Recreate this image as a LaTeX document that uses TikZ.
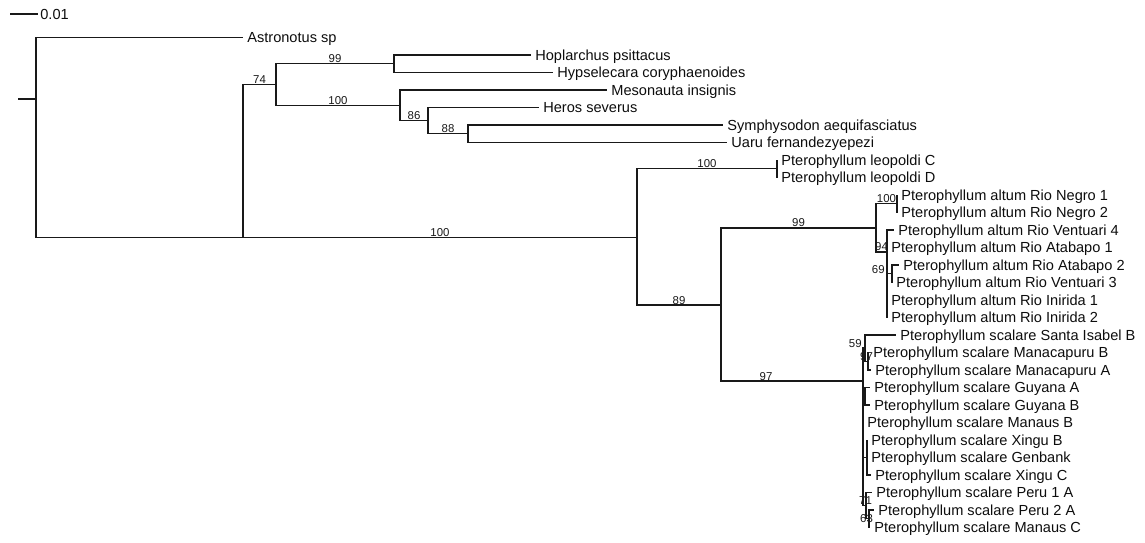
\documentclass[tikz,border=0pt]{standalone}
\usepackage{fontspec}
\setmainfont{Liberation Sans}
\begin{document}
\begin{tikzpicture}[x=0.02cm, y=-0.02cm,
  branch/.style={line width=0.8pt, draw=black!90},
  taxon/.style={anchor=west, inner xsep=0.08cm, inner ysep=0pt,
    text height=5.97pt, text depth=0pt, text=black!95,
    font=\fontsize{8.3}{9}\selectfont},
  bsv/.style={anchor=base, inner sep=0pt, text=black!90,
    font=\fontsize{6.5}{7}\selectfont}]
\useasboundingbox (0,0) rectangle (1145,542);

% ---------- scale bar ----------
\coordinate (sbA) at (10,14);
\coordinate (sbB) at (38,14);
\node[taxon, inner xsep=0.04cm] (sbL) at (38,14.5) {0.01};
\draw[branch] (sbA) -- (sbB);

% ---------- internal nodes ----------
\coordinate (rs)   at (18,99);
\coordinate (r0)   at (36,99);
\coordinate (n243) at (243,237.5);
\coordinate (n74)  at (276,84.5);
\coordinate (n99a) at (394,63.75);
\coordinate (n100a) at (400,105.3);
\coordinate (n86)  at (428,120.6);
\coordinate (n88)  at (468,133.75);
\coordinate (n637) at (637,237.5);
\coordinate (nleo) at (777,168.75);
\coordinate (n721) at (721,305);
\coordinate (n99b) at (876,227.8);
\coordinate (nneg) at (897,203.75);
\coordinate (n94)  at (887,251.9);
\coordinate (n69)  at (892,273.75);
\coordinate (nsc)  at (863,381);
\coordinate (n59)  at (865,348.1);
\coordinate (n97m) at (868,361.25);
\coordinate (nguy) at (865,396.25);
\coordinate (nxin) at (867,457.5);
\coordinate (n71)  at (866,505.6);
\coordinate (n63)  at (869,518.75);

% ---------- taxa ----------
\node[taxon] (astr) at (243,37.5) {Astronotus sp};
\node[taxon] (hopl) at (531,55) {Hoplarchus psittacus};
\node[taxon] (hyps) at (553,72.5) {Hypselecara coryphaenoides};
\node[taxon] (meso) at (607,90) {Mesonauta insignis};
\node[taxon] (hero) at (539,107.5) {Heros severus};
\node[taxon] (symp) at (723,125) {Symphysodon aequifasciatus};
\node[taxon] (uaru) at (727,142.5) {Uaru fernandezyepezi};
\node[taxon] (leoC) at (777,160) {Pterophyllum leopoldi C};
\node[taxon] (leoD) at (777,177.5) {Pterophyllum leopoldi D};
\node[taxon] (neg1) at (897,195) {Pterophyllum altum Rio Negro 1};
\node[taxon] (neg2) at (897,212.5) {Pterophyllum altum Rio Negro 2};
\node[taxon] (ven4) at (894,230) {Pterophyllum altum Rio Ventuari 4};
\node[taxon] (ata1) at (887,247.5) {Pterophyllum altum Rio Atabapo 1};
\node[taxon] (ata2) at (899,265) {Pterophyllum altum Rio Atabapo 2};
\node[taxon] (ven3) at (892,282.5) {Pterophyllum altum Rio Ventuari 3};
\node[taxon] (ini1) at (887,300) {Pterophyllum altum Rio Inirida 1};
\node[taxon] (ini2) at (887,317.5) {Pterophyllum altum Rio Inirida 2};
\node[taxon] (sisb) at (896,335) {Pterophyllum scalare Santa Isabel B};
\node[taxon] (mcpB) at (869,352.5) {Pterophyllum scalare Manacapuru B};
\node[taxon] (mcpA) at (871,370) {Pterophyllum scalare Manacapuru A};
\node[taxon] (guyA) at (870,387.5) {Pterophyllum scalare Guyana A};
\node[taxon] (guyB) at (870,405) {Pterophyllum scalare Guyana B};
\node[taxon] (mnsB) at (863,422.5) {Pterophyllum scalare Manaus B};
\node[taxon] (xinB) at (867,440) {Pterophyllum scalare Xingu B};
\node[taxon] (genb) at (867,457.5) {Pterophyllum scalare Genbank};
\node[taxon] (xinC) at (871,475) {Pterophyllum scalare Xingu C};
\node[taxon] (per1) at (872,492.5) {Pterophyllum scalare Peru 1 A};
\node[taxon] (per2) at (874,510) {Pterophyllum scalare Peru 2 A};
\node[taxon] (mnsC) at (870,527.5) {Pterophyllum scalare Manaus C};

% ---------- branches ----------
\draw[branch] (rs) -- (r0);
\draw[branch] (r0) |- (astr.west);
\draw[branch] (r0) |- (n243);
\draw[branch] (n243) |- (n74);
\draw[branch] (n243) -- (n637);
\draw[branch] (n74) |- (n99a);
\draw[branch] (n74) |- (n100a);
\draw[branch] (n99a) |- (hopl.west);
\draw[branch] (n99a) |- (hyps.west);
\draw[branch] (n100a) |- (meso.west);
\draw[branch] (n100a) |- (n86);
\draw[branch] (n86) |- (hero.west);
\draw[branch] (n86) |- (n88);
\draw[branch] (n88) |- (symp.west);
\draw[branch] (n88) |- (uaru.west);

\draw[branch] (n637) |- (nleo);
\draw[branch] (n637) |- (n721);
\draw[branch] (nleo) |- (leoC.west);
\draw[branch] (nleo) |- (leoD.west);
\draw[branch] (n721) |- (n99b);
\draw[branch] (n721) |- (nsc);

\draw[branch] (n99b) |- (nneg);
\draw[branch] (n99b) |- (n94);
\draw[branch] (nneg) |- (neg1.west);
\draw[branch] (nneg) |- (neg2.west);
\draw[branch] (n94) |- (ven4.west);
\draw[branch] (n94) |- (ata1.west);
\draw[branch] (n94) |- (n69);
\draw[branch] (n94) |- (ini1.west);
\draw[branch] (n94) |- (ini2.west);
\draw[branch] (n69) |- (ata2.west);
\draw[branch] (n69) |- (ven3.west);

\draw[branch] (nsc) |- (n59);
\draw[branch] (nsc) |- (nguy);
\draw[branch] (nsc) |- (mnsB.west);
\draw[branch] (nsc) |- (nxin);
\draw[branch] (nsc) |- (n71);
\draw[branch] (n59) |- (sisb.west);
\draw[branch] (n59) |- (n97m);
\draw[branch] (n97m) |- (mcpB.west);
\draw[branch] (n97m) |- (mcpA.west);
\draw[branch] (nguy) |- (guyA.west);
\draw[branch] (nguy) |- (guyB.west);
\draw[branch] (nxin) |- (xinB.west);
\draw[branch] (nxin) |- (genb.west);
\draw[branch] (nxin) |- (xinC.west);
\draw[branch] (n71) |- (per1.west);
\draw[branch] (n71) |- (n63);
\draw[branch] (n63) |- (per2.west);
\draw[branch] (n63) |- (mnsC.west);

% ---------- bootstrap values ----------
\node[bsv] (b74)   at (259.5,83.5) {74};
\node[bsv] (b99a)  at (335,62.75) {99};
\node[bsv] (b100a) at (338,104.3) {100};
\node[bsv] (b86)   at (414,119.6) {86};
\node[bsv] (b88)   at (448,132.75) {88};
\node[bsv] (b100b) at (440,236.5) {100};
\node[bsv] (b100c) at (707,167.75) {100};
\node[bsv] (b89)   at (679,304) {89};
\node[bsv] (b99b)  at (798.5,226.8) {99};
\node[bsv] (b97s)  at (766,380) {97};
\node[bsv] (b100d) at (886.5,202.75) {100};
\node[bsv] (b94)   at (881.5,250.9) {94};
\node[bsv, anchor=base east] (b69) at (885,273) {69};
\node[bsv, anchor=base east] (b59) at (862,347) {59};
\node[bsv] (b97m)  at (866.5,360) {97};
\node[bsv] (b71)   at (865.5,504) {71};
\node[bsv] (b63)   at (866.5,522) {63};
\end{tikzpicture}
\end{document}
